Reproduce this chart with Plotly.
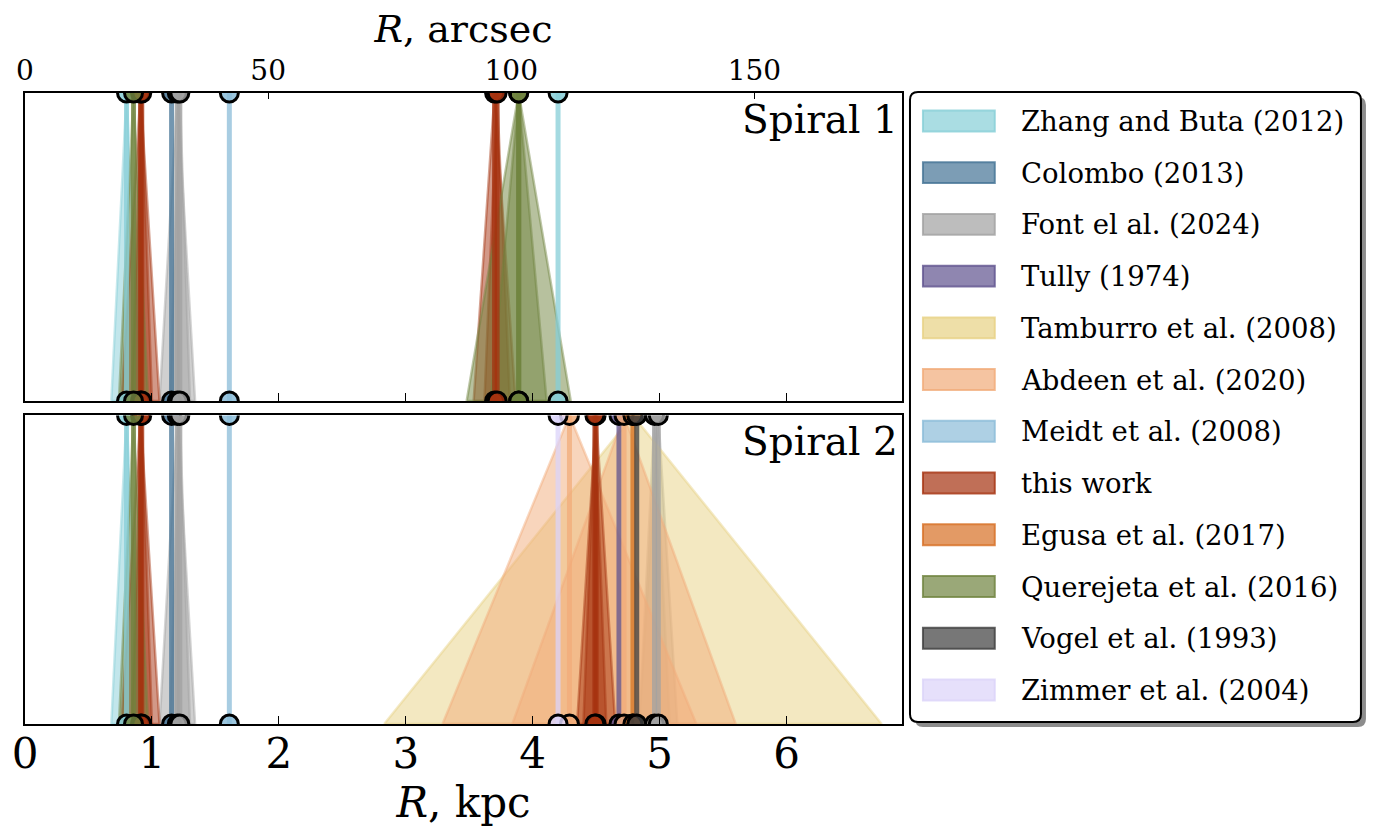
import plotly.graph_objects as go

# ---------------- data ----------------
names = ["Zhang and Buta (2012)", "Colombo (2013)", "Font el al. (2024)", "Tully (1974)",
         "Tamburro et al. (2008)", "Abdeen et al. (2020)", "Meidt et al. (2008)", "this work",
         "Egusa et al. (2017)", "Querejeta et al. (2016)", "Vogel et al. (1993)", "Zimmer et al. (2004)"]
colors = ["#86ced7", "#447395", "#a1a1a1", "#5f528e", "#e7d183", "#f1ab79",
          "#8bbcd8", "#a5320f", "#d76f24", "#6f833e", "#3d3d3d", "#dbd3f9"]

# Spiral 1: source index, corotation radius R [kpc], half-width of uncertainty [kpc]
s1_src = [0, 0, 1, 2, 2, 6, 7, 7, 7, 7, 9, 9, 9]
s1_R = [0.80, 4.20, 1.155, 1.20, 1.22, 1.61, 0.91, 0.92, 3.70, 3.72, 0.855, 3.89, 3.89]
s1_err = [0.12, 0.0, 0.0, 0.14, 0.08, 0.0, 0.15, 0.08, 0.165, 0.10, 0.115, 0.41, 0.22]

# Spiral 2
s2_src = [0, 1, 2, 2, 2, 2, 3, 4, 5, 5, 6, 7, 7, 7, 7, 8, 9, 10, 11]
s2_R = [0.80, 1.155, 1.20, 1.22, 4.96, 4.99, 4.68, 4.79, 4.29, 4.72, 1.61,
        0.91, 0.92, 4.50, 4.49, 4.79, 0.855, 4.82, 4.20]
s2_err = [0.12, 0.0, 0.14, 0.08, 0.12, 0.15, 0.0, 1.96, 1.0, 0.88, 0.0,
          0.15, 0.08, 0.15, 0.09, 0.0, 0.115, 0.0, 0.0]

panel_labels = ["Spiral 1", "Spiral 2"]
kpc_ticks = [0, 1, 2, 3, 4, 5, 6]
arcsec_ticks = [0, 50, 100, 150]
arcsec_per_kpc = 26.1
x_max = 6.91

FONT = "DejaVu Serif"


def rgba(h, a):
    h = h.lstrip("#")
    r, g, b = int(h[0:2], 16), int(h[2:4], 16), int(h[4:6], 16)
    return f"rgba({r},{g},{b},{a})"


fig = go.Figure()

panels = [("x2", "y2", s1_src, s1_R, s1_err), ("x", "y", s2_src, s2_R, s2_err)]
for xa, ya, src, Rs, errs in panels:
    order = sorted(range(len(src)), key=lambda i: src[i])
    # triangles
    for i in order:
        if errs[i] > 0:
            c = colors[src[i]]
            fig.add_trace(go.Scatter(
                x=[Rs[i] - errs[i], Rs[i], Rs[i] + errs[i], Rs[i] - errs[i]],
                y=[0, 1, 0, 0], mode="lines", fill="toself",
                fillcolor=rgba(c, 0.5), line=dict(color=rgba(c, 0.45), width=2.5),
                xaxis=xa, yaxis=ya, showlegend=False, hoverinfo="skip"))
    # vertical lines
    for i in order:
        c = colors[src[i]]
        fig.add_trace(go.Scatter(
            x=[Rs[i], Rs[i]], y=[0, 1], mode="lines",
            line=dict(color=rgba(c, 0.75), width=5),
            xaxis=xa, yaxis=ya, showlegend=False, hoverinfo="skip"))
    # end markers
    for i in order:
        c = colors[src[i]]
        fig.add_trace(go.Scatter(
            x=[Rs[i], Rs[i]], y=[0, 1], mode="markers",
            marker=dict(size=18, color=rgba(c, 0.85), line=dict(color="black", width=3)),
            xaxis=xa, yaxis=ya, showlegend=False, cliponaxis=True, hoverinfo="skip"))

# invisible trace to activate the arcsec axis
fig.add_trace(go.Scatter(x=[0, x_max * arcsec_per_kpc], y=[0.5, 0.5], mode="lines",
                         line=dict(width=0), xaxis="x3", yaxis="y2",
                         showlegend=False, hoverinfo="skip", opacity=0))

axis_line = dict(showline=True, linecolor="black", linewidth=2, mirror=True,
                 showgrid=False, zeroline=False)

fig.update_layout(
    width=1375, height=830,
    margin=dict(l=23, r=473, t=93, b=104),
    paper_bgcolor="white", plot_bgcolor="white",
    showlegend=False,
    font=dict(family=FONT, color="black"),
    xaxis=dict(range=[0, x_max], anchor="y", tickvals=kpc_ticks,
               ticks="inside", ticklen=8, tickwidth=1, tickcolor="black",
               tickfont=dict(size=42, family=FONT), ticklabelstandoff=-8,
               title=dict(text="<i>R</i>, kpc", font=dict(size=42, family=FONT), standoff=10),
               **axis_line),
    xaxis2=dict(range=[0, x_max], anchor="y2", matches="x", tickvals=kpc_ticks,
                ticks="inside", ticklen=8, tickwidth=1, tickcolor="black",
                showticklabels=False, **axis_line),
    xaxis3=dict(range=[0, x_max * arcsec_per_kpc], anchor="y2", overlaying="x2", side="top",
                tickvals=arcsec_ticks, ticks="inside", ticklen=6, tickwidth=1, tickcolor="black",
                tickfont=dict(size=28, family=FONT), ticklabelstandoff=6,
                title=dict(text="<i>R</i>, arcsec", font=dict(size=38, family=FONT), standoff=0),
                showline=False, showgrid=False, zeroline=False),
    yaxis=dict(domain=[0, 0.489], range=[0, 1], showticklabels=False, ticks="", **axis_line),
    yaxis2=dict(domain=[0.512, 1], range=[0, 1], showticklabels=False, ticks="", **axis_line),
)

for lab, xd, yd in [(panel_labels[0], "x2 domain", "y2 domain"), (panel_labels[1], "x domain", "y domain")]:
    fig.add_annotation(text=lab, xref=xd, yref=yd, x=1, y=1, xanchor="right", yanchor="top",
                       showarrow=False, font=dict(size=39, family=FONT, color="black"),
                       xshift=-2, yshift=-2)

# ---------------- legend (drawn as a boxed key) ----------------
PL, PR, PT, PB = 23, 902, 93, 726


def px(xp):
    return (xp - PL) / (PR - PL)


def py(yp):
    return (PB - yp) / (PB - PT)


def rounded_path(x0, y0, x1, y1, r):
    pts = [
        f"M {px(x0 + r)},{py(y0)}",
        f"L {px(x1 - r)},{py(y0)}",
        f"Q {px(x1)},{py(y0)} {px(x1)},{py(y0 + r)}",
        f"L {px(x1)},{py(y1 - r)}",
        f"Q {px(x1)},{py(y1)} {px(x1 - r)},{py(y1)}",
        f"L {px(x0 + r)},{py(y1)}",
        f"Q {px(x0)},{py(y1)} {px(x0)},{py(y1 - r)}",
        f"L {px(x0)},{py(y0 + r)}",
        f"Q {px(x0)},{py(y0)} {px(x0 + r)},{py(y0)}",
        "Z",
    ]
    return " ".join(pts)


bx0, by0, bx1, by1 = 910, 92, 1362, 724
fig.add_shape(type="path", xref="paper", yref="paper",
              path=rounded_path(bx0 + 5, by0 + 5, bx1 + 5, by1 + 5, 8),
              fillcolor="#8c8c8c", line=dict(width=0), layer="above")
fig.add_shape(type="path", xref="paper", yref="paper",
              path=rounded_path(bx0, by0, bx1, by1, 8),
              fillcolor="white", line=dict(color="black", width=2), layer="above")

row0, dy = 121, 51.9
for k, (nm, c) in enumerate(zip(names, colors)):
    yc = row0 + k * dy
    fig.add_shape(type="rect", xref="paper", yref="paper",
                  x0=px(923), x1=px(995), y0=py(yc + 10.5), y1=py(yc - 10.5),
                  fillcolor=rgba(c, 0.7), line=dict(color=rgba(c, 0.8), width=2), layer="above")
    fig.add_annotation(text=nm, xref="paper", yref="paper", x=px(1019), y=py(yc),
                       xanchor="left", yanchor="middle", showarrow=False,
                       font=dict(size=27.5, family=FONT, color="black"))

fig.write_html("out.html")
